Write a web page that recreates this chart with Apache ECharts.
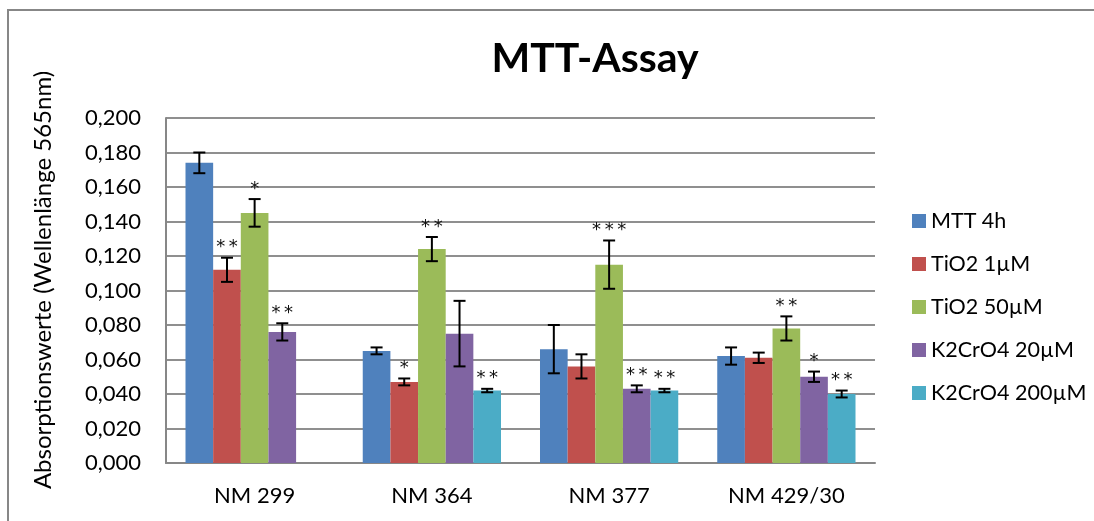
<!DOCTYPE html>
<html>
<head>
<meta charset="utf-8">
<script src="https://cdn.jsdelivr.net/npm/echarts@6/dist/echarts.min.js"></script>
<style>
  html, body { margin: 0; padding: 0; background: #fff; }
  #chart { width: 1094px; height: 521px; }
</style>
</head>
<body>
<div id="chart"></div>
<script>
const categories = ['NM 299', 'NM 364', 'NM 377', 'NM 429/30'];
const seriesNames = ['MTT 4h', 'TiO2 1µM', 'TiO2 50µM', 'K2CrO4 20µM', 'K2CrO4 200µM'];

const mtt4h      = [0.174, 0.065, 0.066, 0.062];
const mtt4hErr   = [0.006, 0.002, 0.014, 0.005];
const mtt4hSig   = ['', '', '', ''];

const tio2_1     = [0.112, 0.047, 0.056, 0.061];
const tio2_1Err  = [0.007, 0.002, 0.007, 0.003];
const tio2_1Sig  = ['**', '*', '', ''];

const tio2_50    = [0.145, 0.124, 0.115, 0.078];
const tio2_50Err = [0.008, 0.007, 0.014, 0.007];
const tio2_50Sig = ['*', '**', '***', '**'];

const k2cr_20    = [0.076, 0.075, 0.043, 0.050];
const k2cr_20Err = [0.005, 0.019, 0.002, 0.003];
const k2cr_20Sig = ['**', '', '**', '*'];

const k2cr_200    = [null, 0.042, 0.042, 0.040];
const k2cr_200Err = [null, 0.001, 0.001, 0.002];
const k2cr_200Sig = ['', '**', '**', '**'];

const colors = ['#4F81BD', '#C0504D', '#9BBB59', '#8064A2', '#4BACC6'];
const FONT = 'Lato, "Open Sans", sans-serif';

const values = [mtt4h, tio2_1, tio2_50, k2cr_20, k2cr_200];
const errs = [mtt4hErr, tio2_1Err, tio2_50Err, k2cr_20Err, k2cr_200Err];
const sigs = [mtt4hSig, tio2_1Sig, tio2_50Sig, k2cr_20Sig, k2cr_200Sig];

const CAT_GAP = 0.22;
const N = seriesNames.length;

const barSeries = seriesNames.map((name, i) => ({
  name: name,
  type: 'bar',
  barGap: '0%',
  barCategoryGap: (CAT_GAP * 100) + '%',
  itemStyle: { color: colors[i] },
  data: values[i].map(v => v === null ? '-' : v),
  z: 2
}));

const errData = [];
values.forEach((arr, s) => {
  arr.forEach((v, c) => {
    if (v !== null) errData.push([c, v, errs[s][c], s, sigs[s][c]]);
  });
});

const errorSeries = {
  type: 'custom',
  name: 'errors',
  z: 5,
  silent: true,
  encode: { x: 0, y: 1 },
  data: errData,
  renderItem: function (params, api) {
    const c = api.value(0), v = api.value(1), e = api.value(2), s = api.value(3);
    const sig = errData[params.dataIndex][4];
    const catW = api.size([1, 0])[0];
    const bw = catW * (1 - CAT_GAP) / N;
    const center = api.coord([c, v]);
    const x = center[0] + (s - (N - 1) / 2) * bw;
    const top = api.coord([c, v + e])[1];
    const bot = api.coord([c, v - e])[1];
    const half = 6;
    const st = { stroke: '#000', lineWidth: 2 };
    const children = [
      { type: 'line', shape: { x1: x, y1: top, x2: x, y2: bot }, style: st },
      { type: 'line', shape: { x1: x - half, y1: top, x2: x + half, y2: top }, style: st },
      { type: 'line', shape: { x1: x - half, y1: bot, x2: x + half, y2: bot }, style: st }
    ];
    if (sig) {
      children.push({
        type: 'text',
        style: {
          text: sig.split('').join('\u2009'),
          x: x, y: top - 1,
          align: 'center', verticalAlign: 'bottom',
          font: '18px "DejaVu Sans", sans-serif',
          fill: '#111'
        }
      });
    }
    return { type: 'group', children: children };
  }
};

const chart = echarts.init(document.getElementById('chart'));
chart.setOption({
  animation: false,
  backgroundColor: '#fff',
  title: {
    text: 'MTT-Assay',
    left: 590, top: 33,
    textAlign: 'center',
    textStyle: { fontFamily: FONT, fontSize: 41, fontWeight: 'bold', color: '#000' }
  },
  graphic: [
    {
      type: 'rect', silent: true,
      shape: { x: 8, y: 10, width: 1200, height: 700 },
      style: { fill: 'none', stroke: '#878787', lineWidth: 2 }
    },
    {
      type: 'text', silent: true,
      x: 43, y: 280, rotation: Math.PI / 2,
      style: {
        text: 'Absorptionswerte (Wellenlänge 565nm)',
        align: 'center', verticalAlign: 'middle',
        font: '24px ' + FONT, fill: '#000'
      }
    }
  ],
  legend: {
    orient: 'vertical',
    left: 907, top: 205,
    itemWidth: 14, itemHeight: 14, itemGap: 21, itemTextGap: 6,
    icon: 'rect',
    data: seriesNames,
    textStyle: { fontFamily: FONT, fontSize: 21.5, color: '#000' }
  },
  grid: { left: 166, right: 219, top: 118, bottom: 58, containLabel: false },
  xAxis: {
    type: 'category',
    data: categories,
    axisLine: { lineStyle: { color: '#878787', width: 2 } },
    axisTick: { show: false },
    axisLabel: { fontFamily: FONT, fontSize: 22, color: '#000', margin: 22 }
  },
  yAxis: {
    type: 'value',
    min: 0, max: 0.2, interval: 0.02,
    axisLine: { show: true, lineStyle: { color: '#878787', width: 2 } },
    axisTick: { show: false },
    splitLine: { lineStyle: { color: '#8f8f8f', width: 2 } },
    axisLabel: {
      fontFamily: FONT, fontSize: 22, color: '#000', margin: 25,
      formatter: v => v.toFixed(3).replace('.', ',')
    }
  },
  series: barSeries.concat([errorSeries])
});
</script>
</body>
</html>
